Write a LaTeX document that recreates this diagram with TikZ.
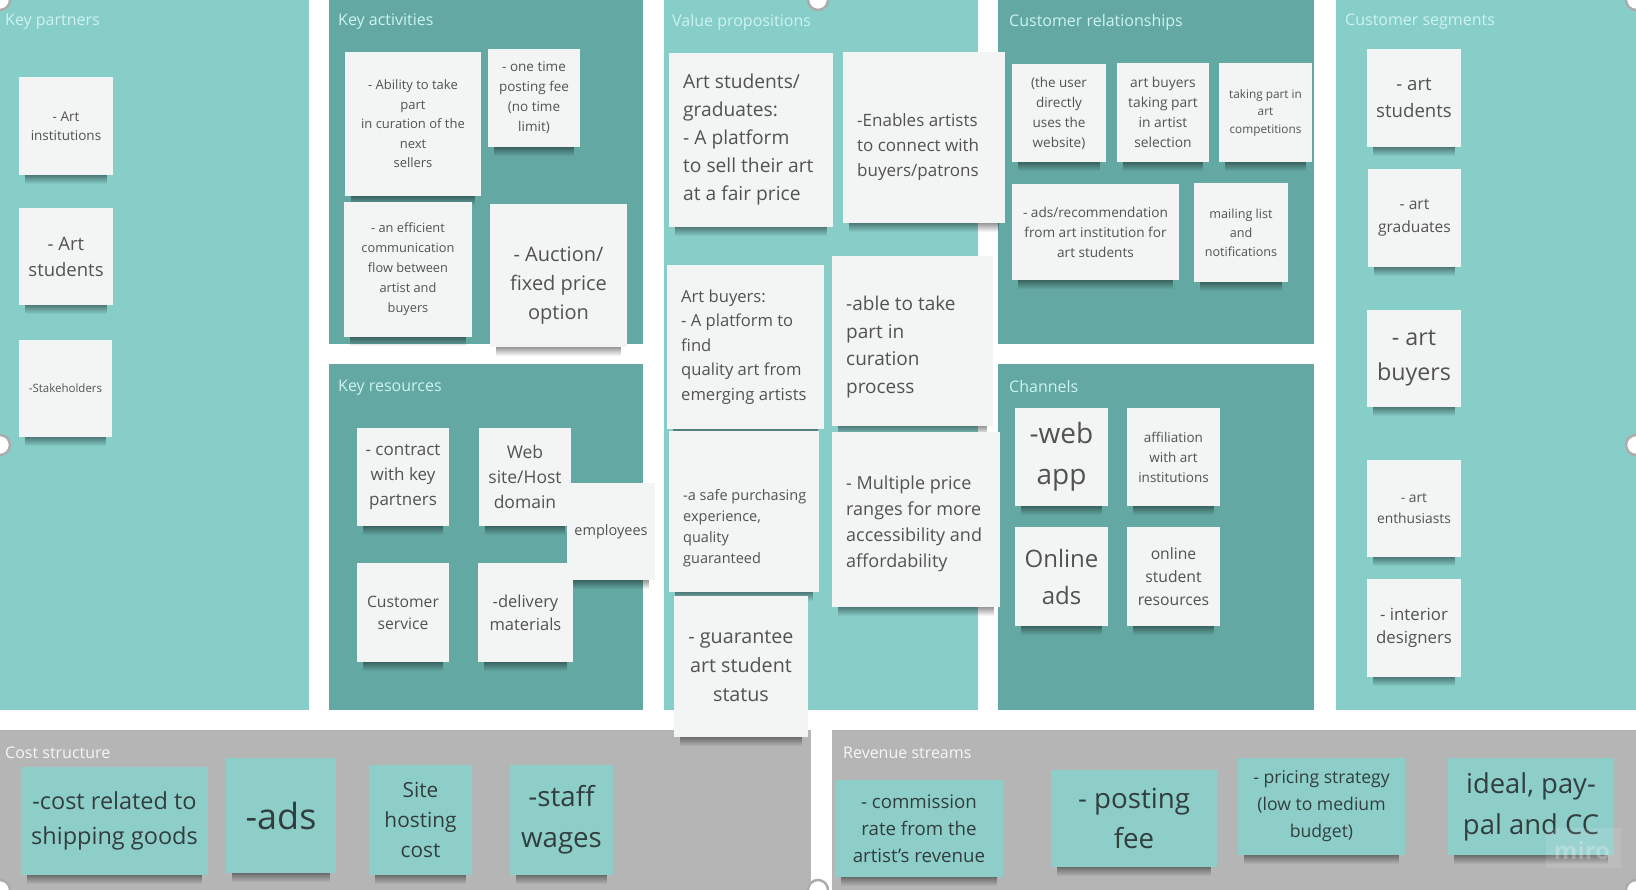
\documentclass[tikz,border=0pt]{standalone}
\usepackage{fontspec}
\setmainfont{Open Sans}
\usetikzlibrary{fadings}
\definecolor{tealL}{RGB}{135,206,201}
\definecolor{tealD}{RGB}{100,168,163}
\definecolor{grayP}{RGB}{181,181,181}
\definecolor{noteW}{RGB}{243,245,245}
\definecolor{noteT}{RGB}{142,206,201}
\definecolor{txt}{RGB}{82,82,82}
\definecolor{txtD}{RGB}{50,62,62}
\definecolor{ttlT}{RGB}{205,243,240}
\definecolor{ttlG}{RGB}{246,246,246}
\tikzset{
  fs/.style 2 args={font=\fontsize{#1}{#2}\selectfont},
  stkbox/.style={fill=noteW, draw=none, inner sep=0pt, outer sep=0pt},
  stktext/.style={align=center, text=txt, inner sep=0pt},
  ttl/.style={anchor=west, text=ttlT, fs={16}{19}, inner sep=0pt},
  ttlg/.style={ttl, text=ttlG},
  handle/.style={fill=white, draw=gray!65, line width=2.5pt},
  stkshadow/.style={fill=black, opacity=.45, path fading=south},
}
\newcommand{\stk}[7][]{%
  \fill[stkshadow] ({#3+6},{#6-1}) rectangle ({#5-6},{#6+9});
  \node[stkbox, minimum width={#5-#3}, minimum height={#6-#4}] (#2) at ({(#3+#5)/2},{(#4+#6)/2}) {};
  \node[stktext, #1] (#2-t) at (#2.center) {#7};
}
\newcommand{\stkl}[7][]{%
  \fill[stkshadow] ({#3+6},{#6-1}) rectangle ({#5-6},{#6+9});
  \node[stkbox, minimum width={#5-#3}, minimum height={#6-#4}] (#2) at ({(#3+#5)/2},{(#4+#6)/2}) {};
  \node[stktext, align=left, anchor=west, #1] (#2-t) at ([xshift=14pt]#2.west) {#7};
}
\begin{document}
\begin{tikzpicture}[x=1pt, y=-1pt]
\useasboundingbox (0,0) rectangle (1636,890);
\fill[white] (0,0) rectangle (1636,890);
% panels
\fill[tealL] (0,0) rectangle (309,710);
\fill[tealD] (329,0) rectangle (643,344);
\fill[tealD] (329,364) rectangle (643,710);
\fill[tealL] (664,0) rectangle (978,710);
\fill[tealD] (998,0) rectangle (1314,344);
\fill[tealD] (998,364) rectangle (1314,710);
\fill[tealL] (1336,0) rectangle (1636,710);
\fill[grayP] (0,730) rectangle (811,890);
\fill[grayP] (832,730) rectangle (1636,890);
% titles
\node[ttl] (t-kp) at (5,22) {Key partners};
\node[ttl] (t-ka) at (338,22) {Key activities};
\node[ttl] (t-vp) at (672,22) {Value propositions};
\node[ttl] (t-cr) at (1009,22) {Customer relationships};
\node[ttl] (t-cs) at (1345,22) {Customer segments};
\node[ttl] (t-kr) at (338,388) {Key resources};
\node[ttl] (t-ch) at (1009,387) {Channels};
\node[ttlg] (t-co) at (5,753) {Cost structure};
\node[ttlg] (t-rv) at (843,753) {Revenue streams};
% key partners
\stk[fs={13.5}{19}]{kp1}{19}{77}{113}{175}{- Art\\institutions}
\stk[fs={18.5}{26}]{kp2}{19}{208}{113}{305}{- Art\\students}
\stk[fs={11.5}{15}]{kp3}{19}{340}{112}{437}{-Stakeholders}
% key activities
\stk[fs={13}{19.5}]{ka1}{345}{52}{481}{196}{- Ability to take\\part\\in curation of the\\next\\sellers}
\stk[fs={13.5}{20}]{ka2}{488}{49}{580}{147}{- one time\\posting fee\\(no time\\limit)}
\stk[fs={12.8}{20}]{ka3}{344}{202}{472}{337}{- an efficient\\communication\\flow between\\artist and\\buyers}
\stk[fs={20}{29}, yshift=-10pt]{ka4}{490}{204}{627}{347}{- Auction/\\fixed price\\option}
% key resources
\stk[fs={17}{25}]{kr1}{357}{428}{449}{526}{- contract\\with key\\partners}
\stk[fs={17.5}{25}]{kr2}{479}{428}{571}{526}{Web\\site/Host\\domain}
\stk[fs={14.5}{18}]{kr3}{567}{483}{655}{580}{employees}
\stk[fs={15.7}{22}]{kr4}{357}{563}{449}{662}{Customer\\service}
\stk[fs={16.5}{23}]{kr5}{478}{563}{573}{662}{-delivery\\materials}
% value propositions
\stkl[fs={19.2}{28}]{vp1}{669}{53}{833}{227}{Art students/\\graduates:\\- A platform\\to sell their art\\at a fair price}
\stkl[fs={17}{25}, yshift=-10pt]{vp2}{843}{52}{1005}{223}{-Enables artists\\to connect with\\buyers/patrons}
\stkl[fs={16.6}{24.5}]{vp3}{667}{265}{824}{429}{Art buyers:\\- A platform to\\find\\quality art from\\emerging artists}
\stkl[fs={19}{27.5}, yshift=-6pt]{vp4}{832}{256}{993}{426}{-able to take\\part in\\curation\\process}
\stkl[fs={14.5}{21}, yshift=-17pt]{vp5}{669}{431}{819}{592}{-a safe purchasing\\experience,\\quality\\guaranteed}
\stkl[fs={18}{26}, yshift=-4pt]{vp6}{832}{432}{1000}{607}{- Multiple price\\ranges for more\\accessibility and\\affordability}
\stk[fs={19.7}{29}]{vp7}{674}{596}{808}{737}{- guarantee\\art student\\status}
% customer relationships
\stk[fs={13.5}{20}]{cr1}{1012}{64}{1106}{162}{(the user\\directly\\uses the\\website)}
\stk[fs={13.8}{20}]{cr2}{1117}{63}{1209}{162}{art buyers\\taking part\\in artist\\selection}
\stk[fs={11.8}{17.5}]{cr3}{1219}{63}{1312}{162}{taking part in\\art\\competitions}
\stk[fs={13.6}{20}]{cr4}{1012}{184}{1179}{280}{- ads/recommendation\\from art institution for\\art students}
\stk[fs={12.6}{19}]{cr5}{1194}{183}{1288}{282}{mailing list\\and\\notifications}
% channels
\stk[fs={28}{41}]{ch1}{1015}{408}{1108}{506}{-web\\app}
\stk[fs={13.5}{20}]{ch2}{1127}{408}{1220}{506}{affiliation\\with art\\institutions}
\stk[fs={24}{37}]{ch3}{1015}{527}{1108}{626}{Online\\ads}
\stk[fs={15.7}{23}]{ch4}{1127}{527}{1220}{626}{online\\student\\resources}
% customer segments
\stk[fs={18.6}{27}]{cs1}{1367}{49}{1461}{147}{- art\\students}
\stk[fs={15.6}{23}]{cs2}{1368}{169}{1461}{267}{- art\\graduates}
\stk[fs={23.3}{35}]{cs3}{1367}{310}{1461}{407}{- art\\buyers}
\stk[fs={13.8}{21}]{cs4}{1367}{460}{1461}{557}{- art\\enthusiasts}
\stk[fs={16.8}{23}]{cs5}{1367}{579}{1461}{677}{- interior\\designers}
% cost structure and revenue streams
\begin{scope}
\tikzset{stkbox/.append style={fill=noteT}, stktext/.append style={text=txtD}}
\stk[fs={23.5}{35}]{co1}{21}{767}{208}{875}{-cost related to\\shipping goods}
\stk[fs={36}{40}]{co2}{226}{758}{336}{873}{-ads}
\stk[fs={20.8}{30}]{co3}{369}{765}{472}{875}{Site\\hosting\\cost}
\stk[fs={27.7}{41}]{co4}{510}{765}{613}{875}{-staff\\wages}
\stk[fs={18.7}{27}]{rv1}{835}{780}{1003}{877}{- commission\\rate from the\\artist's revenue}
\stk[fs={27.7}{40}]{rv2}{1051}{770}{1217}{867}{- posting\\fee}
\stk[fs={17.6}{27}]{rv3}{1238}{758}{1405}{855}{- pricing strategy\\(low to medium\\budget)}
\stk[fs={27.4}{41}]{rv4}{1448}{758}{1614}{855}{ideal, pay-\\pal and CC}
\end{scope}
\fill[white, opacity=.10] (1546,828) rectangle (1621,868);
\node[text=white, opacity=.25, font=\fontsize{24}{24}\selectfont\bfseries, inner sep=0pt] (miro) at (1582,850) {miro};
% selection handles
\foreach \hx/\hy in {0/0, 818/0, 1636/0, 0/445, 1636/445, 0/890, 818/890, 1636/890}
  \draw[handle] (\hx,\hy) circle [radius=10pt];
\end{tikzpicture}
\end{document}
